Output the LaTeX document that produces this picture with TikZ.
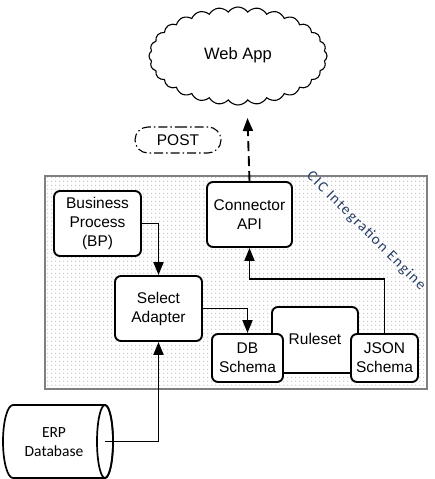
\documentclass[tikz,border=0pt]{standalone}
\usepackage{fontspec}
\setmainfont{Liberation Sans}
\newfontfamily\calib{Carlito}
\newfontfamily\calibsp[LetterSpace=10]{Carlito}
\usetikzlibrary{shapes.symbols,shapes.misc,arrows.meta,patterns.meta}
\definecolor{enginetxt}{RGB}{40,62,105}
\definecolor{enginebrd}{RGB}{128,128,128}
\tikzdeclarepattern{
  name=mydots,
  type=uncolored,
  bounding box={(0pt,0pt) and (4.2pt,4.2pt)},
  tile size={(4.2pt,4.2pt)},
  code={\pgfpathrectangle{\pgfpoint{1.6pt}{1.6pt}}{\pgfpoint{0.9pt}{0.9pt}}\pgfusepath{fill}}
}
\tikzset{
  boxnode/.style={draw, line width=1.9pt, rounded corners=6pt, fill=white, align=center,
    inner sep=0pt, font=\fontsize{15.5}{19}\selectfont},
  arr/.style={line width=1.9pt, -{Triangle[length=13pt,width=10pt]}},
}
\begin{document}
\begin{tikzpicture}[x=1pt,y=-1pt]
\useasboundingbox (0,0) rectangle (435,479);
% engine
\fill[white] (45,176) rectangle (427,389);
\fill[pattern=mydots, pattern color=black!45] (45,176) rectangle (427,389);
\draw[enginebrd, line width=1.6pt] (45,176) rectangle (427,389);
\node[rotate=-45, text=enginetxt, font=\calibsp\fontsize{15}{17}\selectfont] (eng) at (366,231) {CIC Integration Engine};
% cloud
\node[cloud, draw, line width=1.1pt, cloud puffs=28, cloud puff arc=110, aspect=1.8,
  minimum width=178pt, minimum height=98pt, inner sep=0pt, fill=white] (cloud) at (238,56) {};
\node[font=\fontsize{16.5}{19}\selectfont] (webtxt) at (238,55) {Web App};
% POST
\node[draw, rounded rectangle, line width=1.1pt, minimum width=86pt, minimum height=26pt,
  inner sep=0pt, dash pattern=on 9pt off 3pt on 1.5pt off 3pt,
  font=\fontsize{15.5}{19}\selectfont] (post) at (178,140) {POST};
% boxes
\node[boxnode, minimum width=87pt, minimum height=65pt] (bp) at (97.5,223.5) {Business\\Process\\(BP)};
\node[boxnode, minimum width=85pt, minimum height=65pt] (api) at (249.5,214.5) {Connector\\API};
\node[boxnode, minimum width=87pt, minimum height=65pt] (sa) at (158.5,308.5) {Select\\Adapter};
\node[boxnode, minimum width=86pt, minimum height=66pt] (rs) at (315,340) {\raisebox{2pt}{Ruleset}};
\node[boxnode, minimum width=71pt, minimum height=48pt] (db) at (247.5,358) {DB\\Schema};
\node[boxnode, minimum width=67pt, minimum height=48pt] (json) at (384.5,358) {JSON\\Schema};
% ERP cylinder
\draw[line width=1.7pt, fill=white] (13,405) -- (105,405) arc[start angle=-90, end angle=90, x radius=8, y radius=36.5]
  -- (13,478) arc[start angle=90, end angle=270, x radius=10, y radius=36.5] -- cycle;
\draw[line width=1.7pt] (105,441.5) ellipse[x radius=8, y radius=36.5];
\coordinate (erpend) at (105,441.5);
\node[font=\calib\fontsize{15.5}{19}\selectfont, align=center] (erp) at (54,442) {ERP\\Database};
% connectors
\draw[arr] (bp.east) -| (sa.north);
\draw[arr] (sa.east) -| (db.north);
\coordinate (jbend) at (384.5,279);
\draw[arr] (json.north) -- (jbend) -| (api.south);
\draw[arr] (erpend) -| (sa.south);
\coordinate (webtip) at (247.5,118);
\draw[arr, dash pattern=on 10pt off 5pt] (api.north) -- (webtip);
\end{tikzpicture}
\end{document}
